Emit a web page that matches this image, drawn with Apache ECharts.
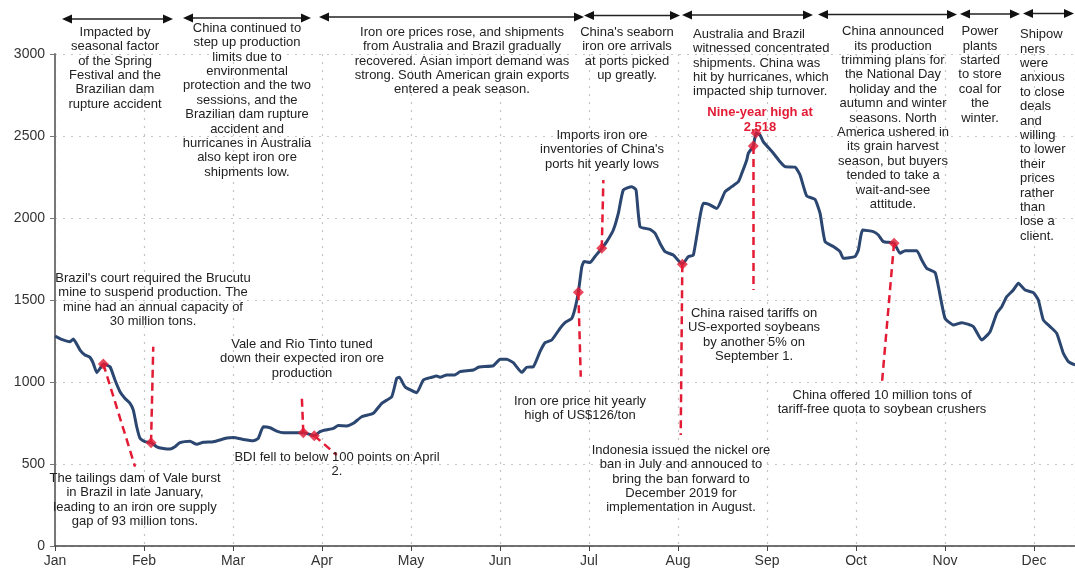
<!DOCTYPE html>
<html>
<head>
<meta charset="utf-8">
<script src="https://cdn.jsdelivr.net/npm/echarts@6/dist/echarts.min.js"></script>
<style>
html,body{margin:0;padding:0;background:#fff;}
#chart{width:1075px;height:574px;}
</style>
</head>
<body>
<div id="chart"></div>
<script>
// ---------- DATA ----------
var monthLabels = ['Jan','Feb','Mar','Apr','May','Jun','Jul','Aug','Sep','Oct','Nov','Dec'];
var yTicks = [0, 500, 1000, 1500, 2000, 2500, 3000];
// position in months since Jan 1 (each month equal width on the chart)
var monthPos = [0.0,0.075,0.169,0.206,0.281,0.337,0.393,0.430,0.469,0.506,0.543,0.618,0.674,0.730,0.787,0.843,0.880,0.918,0.955,
1.011,1.079,1.143,1.217,1.292,1.348,1.404,1.517,1.592,1.666,1.779,1.929,
2.003,2.116,2.228,2.284,2.340,2.416,2.491,2.565,2.678,2.790,2.913,2.978,
3.034,3.127,3.183,3.278,3.352,3.446,3.576,3.671,3.783,3.839,3.869,3.933,
4.064,4.138,4.233,4.289,4.326,4.401,4.494,4.551,4.700,4.756,4.794,4.925,
5.000,5.075,5.149,5.244,5.300,5.374,5.449,5.506,5.581,5.674,5.730,5.806,5.843,5.880,5.918,5.944,
6.011,6.067,6.143,6.199,6.273,6.329,6.385,6.480,6.528,6.573,6.685,6.742,6.798,6.854,6.947,
7.048,7.116,7.172,7.284,7.340,7.435,7.528,7.603,7.678,7.716,7.772,7.790,7.846,7.876,7.921,7.958,
8.071,8.146,8.202,8.315,8.371,8.446,8.539,8.596,8.652,8.745,8.820,8.857,8.989,
9.026,9.075,9.194,9.251,9.307,9.427,9.494,9.551,9.682,9.738,9.794,9.888,9.925,
10.000,10.093,10.188,10.318,10.412,10.506,10.581,10.637,10.693,10.767,10.824,10.899,10.992,
11.048,11.104,11.180,11.255,11.329,11.385,11.461];
var bdi = [1280,1260,1246,1262,1195,1165,1150,1114,1057,1083,1110,1093,1012,941,900,870,829,727,657,
636,630,605,595,591,605,630,638,620,632,636,658,
662,650,642,656,727,721,701,691,691,691,673,697,
707,717,734,732,748,788,809,870,910,1022,1029,971,
935,1012,1029,1037,1029,1043,1043,1063,1073,1090,1093,1099,
1138,1138,1118,1059,1090,1093,1185,1240,1256,1327,1362,1388,1449,1547,1700,1734,
1728,1765,1815,1856,1927,2028,2171,2191,2171,1947,1931,1907,1845,1795,1774,
1718,1765,1774,2090,2085,2058,2160,2191,2222,2272,2354,2395,2439,2518,2506,2465,
2395,2343,2313,2310,2262,2134,2114,2028,1856,1826,1795,1754,1765,
1805,1927,1917,1896,1856,1846,1785,1801,1801,1744,1693,1667,1582,
1388,1348,1362,1338,1256,1307,1419,1459,1520,1561,1602,1561,1545,
1500,1378,1338,1297,1175,1124,1104];
// event markers (month position, value)
var eventPos = [0.543, 1.079, 2.790, 2.913, 5.880, 6.143, 7.048, 7.846, 7.876, 9.427];
var eventVal = [1110, 630, 691, 673, 1547, 1815, 1718, 2439, 2518, 1846];
// leader line ends (month position, value); null = no leader
var leaderEndPos = [0.899, 1.104, 2.772, 3.165, 5.907, 6.161, 7.030, 7.846, null, 9.289];
var leaderEndVal = [484, 1215, 921, 555, 1032, 2232, 677, 1561, null, 982];

// period arrows along the top: [x1, x2, y] in pixels
var periodArrows = [[62,173,19],[183,311,18],[319,584,17],[584,680,15.5],[682,813,15],[818,957,14.5],[960,1020,14],[1023,1074,13.5]];

var notes = [
  {x:115, y:25, a:'center', t:['Impacted by','seasonal factor','of the Spring','Festival and the','Brazilian dam','rupture accident']},
  {x:247, y:21, a:'center', t:['China continued to','step up production','limits due to','environmental','protection and the two','sessions, and the','Brazilian dam rupture','accident and','hurricanes in Australia','also kept iron ore','shipments low.']},
  {x:462, y:25, a:'center', t:['Iron ore prices rose, and shipments','from Australia and Brazil gradually','recovered. Asian import demand was','strong. South American grain exports','entered a peak season.']},
  {x:627, y:25, a:'center', t:["China's seaborn",'iron ore arrivals','at ports picked','up greatly.']},
  {x:693, y:27, a:'left', t:['Australia and Brazil','witnessed concentrated','shipments. China was','hit by hurricanes, which','impacted ship turnover.']},
  {x:893, y:24.5, a:'center', t:['China announced','its production','trimming plans for','the National Day','holiday and the','autumn and winter','seasons. North','America ushered in','its grain harvest','season, but buyers','tended to take a','wait-and-see','attitude.']},
  {x:980, y:24.5, a:'center', t:['Power','plants','started','to store','coal for','the','winter.']},
  {x:1020, y:27.5, a:'left', t:['Shipow','ners','were','anxious','to close','deals','and','willing','to lower','their','prices','rather','than','lose a','client.']},
  {x:602, y:128, a:'center', t:['Imports iron ore',"inventories of China's",'ports hit yearly lows']},
  {x:153, y:271, a:'center', t:["Brazil's court required the Brucutu",'mine to suspend production. The','mine had an annual capacity of','30 million tons.']},
  {x:302, y:337, a:'center', t:['Vale and Rio Tinto tuned','down their expected iron ore','production']},
  {x:337, y:450, a:'center', t:['BDI fell to below 100 points on April','2.']},
  {x:135, y:471, a:'center', t:['The tailings dam of Vale burst','in Brazil in late January,','leading to an iron ore supply','gap of 93 million tons.']},
  {x:580, y:394, a:'center', t:['Iron ore price hit yearly','high of US$126/ton']},
  {x:681, y:443, a:'center', t:['Indonesia issued the nickel ore','ban in July and annouced to','bring the ban forward to','December 2019 for','implementation in August.']},
  {x:754, y:306, a:'center', t:['China raised tariffs on','US-exported soybeans','by another 5% on','September 1.']},
  {x:882, y:388, a:'center', t:['China offered 10 million tons of','tariff-free quota to soybean crushers']}
];
var highlight = {x:760, y:105, t:['Nine-year high at','2,518']};

// ---------- BUILD ----------
var FONT = "'Liberation Sans', Arial, sans-serif";
var RED = '#e31b35';
var lineData = monthPos.map(function(m,i){ return [m, bdi[i]]; });
var eventData = eventPos.map(function(m,i){ return [m, eventVal[i]]; });
var leaderData = [];
eventPos.forEach(function(m,i){
  if (leaderEndPos[i] === null) return;
  leaderData.push([{coord:[m, eventVal[i]]},{coord:[leaderEndPos[i], leaderEndVal[i]]}]);
});

var graphics = [];
periodArrows.forEach(function(a){
  var x1=a[0], x2=a[1], y=a[2], L=10, H=4.5;
  graphics.push({type:'line', z:50, shape:{x1:x1+L-1,y1:y,x2:x2-L+1,y2:y}, style:{stroke:'#222',lineWidth:1.6}});
  graphics.push({type:'polygon', z:50, shape:{points:[[x1,y],[x1+L,y-H],[x1+L,y+H]]}, style:{fill:'#111'}});
  graphics.push({type:'polygon', z:50, shape:{points:[[x2,y],[x2-L,y-H],[x2-L,y+H]]}, style:{fill:'#111'}});
});
notes.forEach(function(n){
  graphics.push({type:'text', z:60, x:n.x, y:n.y, style:{text:n.t.join('\n'), font:'13px '+FONT, fill:'#222', textAlign:n.a, textVerticalAlign:'top', lineHeight:14.4}});
});
graphics.push({type:'text', z:60, x:highlight.x, y:highlight.y, style:{text:highlight.t.join('\n'), font:'bold 13px '+FONT, fill:RED, textAlign:'center', textVerticalAlign:'top', lineHeight:15}});

var chart = echarts.init(document.getElementById('chart'), null, {renderer:'canvas'});
chart.setOption({
  animation:false,
  backgroundColor:'#fff',
  grid:{left:55, right:0, top:54, bottom:28, containLabel:false},
  xAxis:{
    type:'value', min:0, max:11.46, interval:1,
    axisLine:{show:true, lineStyle:{color:'#444', width:1.5}},
    axisTick:{show:true, length:5, lineStyle:{color:'#444'}},
    axisLabel:{show:true, margin:8, color:'#333', fontSize:14, fontFamily:FONT, showMaxLabel:false,
      formatter:function(v){ var i=Math.round(v); return (Math.abs(v-i)<1e-6 && i<monthLabels.length)? monthLabels[i] : ''; }},
    splitLine:{show:true, lineStyle:{color:'#c4c4c4', width:1.2, type:[2,6]}}
  },
  yAxis:{
    type:'value', min:yTicks[0], max:yTicks[yTicks.length-1], interval:500,
    axisLine:{show:true, lineStyle:{color:'#777', width:2}},
    axisTick:{show:true, length:5, lineStyle:{color:'#777'}},
    axisLabel:{margin:10, color:'#333', fontSize:14, fontFamily:FONT, formatter:function(v){ return String(v); }},
    splitLine:{show:true, lineStyle:{color:'#c4c4c4', width:1.2, type:[2,6]}}
  },
  series:[
    {type:'line', data:lineData, showSymbol:false, symbol:'none', smooth:0.15, z:3,
     lineStyle:{color:'#2b4670', width:3}},
    {type:'scatter', data:eventData, symbol:'diamond', symbolSize:11, z:5,
     itemStyle:{color:RED},
     markLine:{silent:true, symbol:['none','none'], z:4, label:{show:false},
       lineStyle:{color:RED, width:2.5, type:[8,5]}, data:leaderData}}
  ],
  graphic:graphics
});
</script>
</body>
</html>
